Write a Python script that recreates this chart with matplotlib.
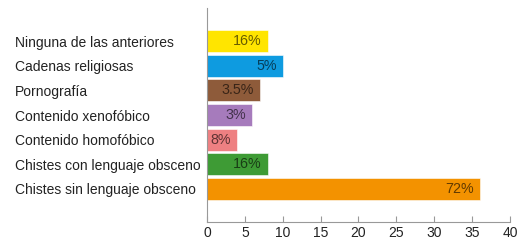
import matplotlib
matplotlib.use('Agg')
import matplotlib.pyplot as plt

# datos (de abajo hacia arriba)
categorias = ['Chistes sin lenguaje obsceno', 'Chistes con lenguaje obsceno',
              'Contenido homofóbico', 'Contenido xenofóbico', 'Pornografía',
              'Cadenas religiosas', 'Ninguna de las anteriores']
valores = [36, 8, 4, 6, 7, 10, 8]
etiquetas = ['72%', '16%', '8%', '3%', '3.5%', '5%', '16%']
colores = ['#F39200', '#3E9B35', '#EE8082', '#A67BBC', '#8E5B3A', '#0E9BE0', '#FFE500']

plt.rcParams['font.family'] = ['Liberation Sans', 'DejaVu Sans']

fig = plt.figure(figsize=(5.26, 2.42), dpi=100)
ax = fig.add_axes([0.3935, 0.0826, 0.576, 0.884])

pos = list(range(len(categorias)))
ax.barh(pos, valores, height=0.9, color=colores, edgecolor='white', linewidth=0.4)

for p, v, t in zip(pos, valores, etiquetas):
    ax.annotate(t, xy=(v, p), xytext=(-4.5, 0), textcoords='offset points',
                ha='right', va='center', fontsize=10.3, color=(0, 0, 0, 0.6))

ax.set_xlim(0, 40)
ax.set_ylim(-1.34, 7.34)
ax.set_xticks(range(0, 41, 5))
ax.set_yticks(pos)
ax.set_yticklabels(categorias, ha='left', fontsize=10, color='#222222')
ax.tick_params(axis='y', length=0, pad=138)
ax.tick_params(axis='x', direction='in', length=4, width=0.8, color='#999999',
               labelsize=10, pad=3, labelcolor='#222222')

for s in ['top', 'right']:
    ax.spines[s].set_visible(False)
for s in ['left', 'bottom']:
    ax.spines[s].set_color('#999999')
    ax.spines[s].set_linewidth(0.8)

fig.savefig('out.png', dpi=100)
